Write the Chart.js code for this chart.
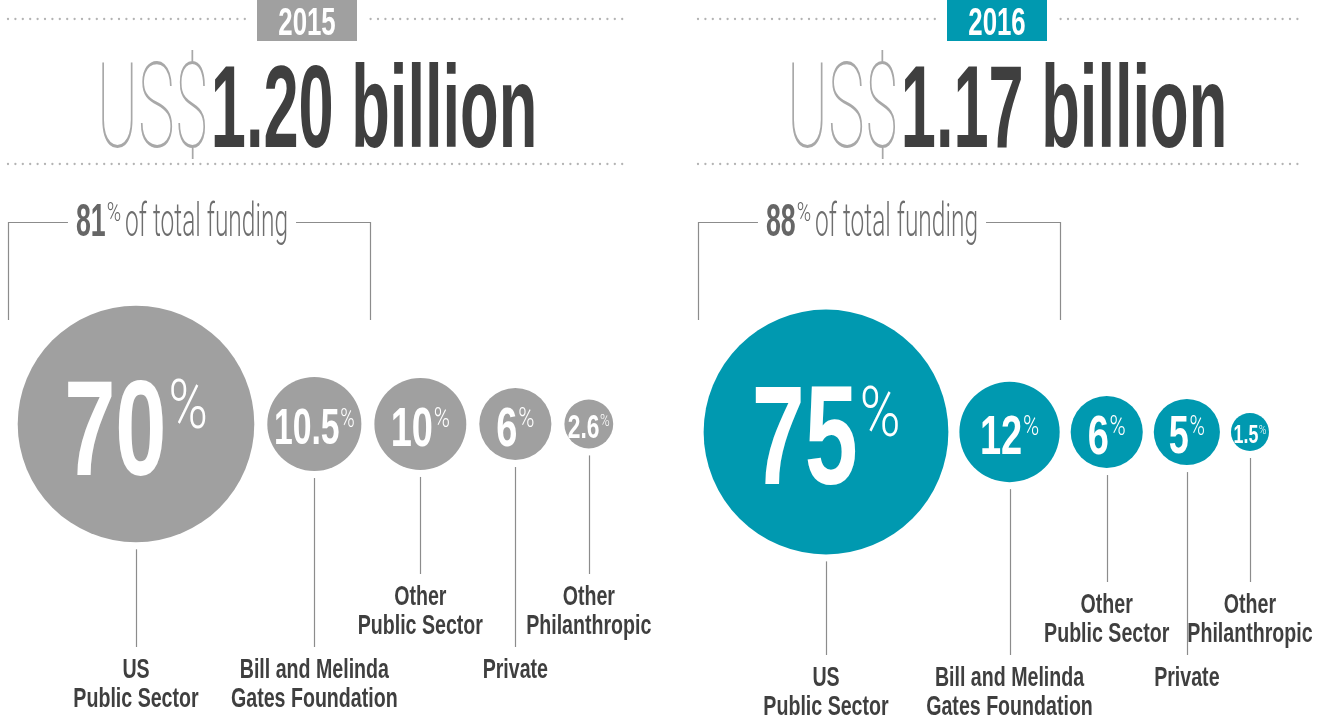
<!DOCTYPE html>
<html>
<head>
<meta charset="utf-8">
<script src="https://cdn.jsdelivr.net/npm/chart.js@4.4.1/dist/chart.umd.min.js"></script>
<style>
  html, body { margin: 0; padding: 0; background: #fff; }
  canvas { display: block; }
</style>
</head>
<body>
<canvas id="funding-chart" width="1318" height="719"></canvas>
<script>
// funding source shares, per year
const years = ['2015', '2016']
const totals = ['1.20', '1.17']
const coreShare = [81, 88]
const categories = [
  ['US', 'Public Sector'],
  ['Bill and Melinda', 'Gates Foundation'],
  ['Other', 'Public Sector'],
  ['Private'],
  ['Other', 'Philanthropic']
]
const share2015 = [70, 10.5, 10, 6, 2.6]
const share2016 = [75, 12, 6, 5, 1.5]

const W = 1318
const H = 719
const GRAY = '#a0a0a0'
const TEAL = '#0099b0'
const DARK = '#3f3f3f'
const panelX = [0, 690]
const panelDy = [0, 8]
const panelGap = [13, 11]
const BOLD = "'Liberation Sans', Arial, sans-serif"
const LIGHT = "Roboto, 'Open Sans', sans-serif"

// bubble area ~ share
function radiusOf (v) {
  return 2 + 13.9 * Math.sqrt(v)
}

// pack bubbles left to right
function packBubbles (values, panel) {
  const pts = []
  let x = panelX[panel] + 136
  let prevR = null
  values.forEach((v, i) => {
    const r = radiusOf(v)
    if (prevR !== null) x += prevR + panelGap[panel] + r
    pts.push({ x: x, y: 424 + panelDy[panel], r: r, v: v })
    prevR = r
  })
  return pts
}

function drawText (ctx, s, x, y, font, color, sx, align) {
  ctx.save()
  ctx.font = font
  ctx.fillStyle = color
  ctx.textAlign = 'left'
  ctx.textBaseline = 'alphabetic'
  const w = ctx.measureText(s).width * sx
  let left = x
  if (align === 'center') left = x - w / 2
  else if (align === 'right') left = x - w
  ctx.translate(left, y)
  ctx.scale(sx, 1)
  ctx.fillText(s, 0, 0)
  ctx.restore()
  return w
}

function textWidth (ctx, s, font, sx) {
  ctx.save()
  ctx.font = font
  const w = ctx.measureText(s).width * sx
  ctx.restore()
  return w
}

function dottedLine (ctx, x0, x1, y, skip) {
  ctx.save()
  ctx.fillStyle = '#b3b3b3'
  for (let x = x0; x <= x1; x += 7.4) {
    if (skip && x > skip[0] - 10 && x < skip[1] + 10) continue
    ctx.beginPath()
    ctx.arc(x, y, 1.15, 0, Math.PI * 2)
    ctx.fill()
  }
  ctx.restore()
}

function drawHeader (ctx, p) {
  const px = panelX[p]
  const boxL = px + 257
  const boxR = boxL + 100
  const color = p === 0 ? GRAY : TEAL
  const end = Math.min(px + 628, W - 20)

  dottedLine(ctx, px + 8, end, 19, [boxL, boxR])
  dottedLine(ctx, px + 8, end, 164, null)

  ctx.fillStyle = color
  ctx.fillRect(boxL, 0, boxR - boxL, 41)
  drawText(ctx, years[p], (boxL + boxR) / 2, 35, 'bold 38px ' + BOLD, '#fff', 0.68, 'center')

  // US$ + amount
  const thinFont = '100 118px ' + LIGHT
  const boldFont = 'bold 117px ' + BOLD
  const thinSx = 112 / textWidth(ctx, 'US$', thinFont, 1)
  const amount = totals[p] + ' billion'
  const wThin = textWidth(ctx, 'US$', thinFont, thinSx)
  const wBold = textWidth(ctx, amount, boldFont, 0.54)
  const x = px + 317 - (wThin + 2 + wBold) / 2
  drawText(ctx, 'US$', x, 147, thinFont, '#a8a8a8', thinSx, 'left')
  drawText(ctx, amount, x + wThin + 2, 147, boldFont, DARK, 0.54, 'left')

  // bracket around the public + gates share
  const numFont = 'bold 46px ' + BOLD
  const pctFont = '300 26px ' + LIGHT
  const restFont = '300 47px ' + LIGHT
  const rest = 'of total funding'
  const restSx = 163 / textWidth(ctx, rest, restFont, 1)
  const wNum = textWidth(ctx, String(coreShare[p]), numFont, 0.58)
  const wPct = textWidth(ctx, '%', pctFont, 0.75)
  const wRest = textWidth(ctx, rest, restFont, restSx)
  const total = wNum + 1 + wPct + 4 + wRest
  const tx = px + 182 - total / 2
  drawText(ctx, String(coreShare[p]), tx, 236, numFont, '#666', 0.58, 'left')
  drawText(ctx, '%', tx + wNum + 1, 221, pctFont, '#666', 0.75, 'left')
  drawText(ctx, rest, tx + wNum + 1 + wPct + 4, 236, restFont, '#6e6e6e', restSx, 'left')

  ctx.save()
  ctx.strokeStyle = '#8c8c8c'
  ctx.lineWidth = 1.2
  ctx.beginPath()
  ctx.moveTo(px + 8.5, 320)
  ctx.lineTo(px + 8.5, 222.5)
  ctx.lineTo(tx - 8, 222.5)
  ctx.moveTo(tx + total + 8, 222.5)
  ctx.lineTo(px + 370.5, 222.5)
  ctx.lineTo(px + 370.5, 320)
  ctx.stroke()
  ctx.restore()
}

function drawBubbleText (ctx, el, v) {
  const r = el.options.radius
  let cap = r > 80 ? 0.82 * r : Math.min(40, 1.15 * r)
  const num = String(v)
  const sx = 0.68
  let numFont, pctFont, wNum, wPct, gap
  const measure = () => {
    numFont = 'bold ' + (cap / 0.716).toFixed(1) + 'px ' + BOLD
    pctFont = '300 ' + (cap * 0.5 / 0.711).toFixed(1) + 'px ' + LIGHT
    wNum = textWidth(ctx, num, numFont, sx)
    wPct = textWidth(ctx, '%', pctFont, 0.78)
    gap = cap * 0.02
  }
  measure()
  const maxW = 1.72 * r
  if (wNum + gap + wPct > maxW) {
    cap *= maxW / (wNum + gap + wPct)
    measure()
  }
  const left = el.x - (wNum + gap + wPct) / 2
  const base = el.y + cap / 2 + 2
  drawText(ctx, num, left, base, numFont, '#fff', sx, 'left')
  drawText(ctx, '%', left + wNum + gap, base - cap + cap * 0.52, pctFont, '#fff', 0.78, 'left')
}

function drawLabel (ctx, el, i, p) {
  const r = el.options.radius
  const lines = categories[i]
  const high = i === 2 || i === 4
  const base = (high ? 605 : 678) + panelDy[p]
  const top = base - 20

  ctx.save()
  ctx.strokeStyle = '#8c8c8c'
  ctx.lineWidth = 1.2
  ctx.beginPath()
  const lx = Math.round(el.x) + 0.5
  ctx.moveTo(lx, el.y + r + 7)
  ctx.lineTo(lx, top - 11)
  ctx.stroke()
  ctx.restore()

  lines.forEach((s, k) => {
    drawText(ctx, s, el.x, base + k * 28.5, 'bold 28px ' + BOLD, DARK, 0.7, 'center')
  })
}

const infographic = {
  id: 'infographic',
  afterDatasetsDraw (chart) {
    const ctx = chart.ctx
    years.forEach((y, p) => {
      drawHeader(ctx, p)
      const meta = chart.getDatasetMeta(p)
      const values = p === 0 ? share2015 : share2016
      meta.data.forEach((el, i) => {
        drawBubbleText(ctx, el, values[i])
        drawLabel(ctx, el, i, p)
      })
    })
  }
}

const canvas = document.getElementById('funding-chart')
new Chart(canvas, {
  type: 'bubble',
  data: {
    datasets: [
      {
        label: years[0],
        data: packBubbles(share2015, 0),
        backgroundColor: GRAY,
        borderWidth: 0,
        hoverRadius: 0,
        clip: false
      },
      {
        label: years[1],
        data: packBubbles(share2016, 1),
        backgroundColor: TEAL,
        borderWidth: 0,
        hoverRadius: 0,
        clip: false
      }
    ]
  },
  options: {
    responsive: false,
    animation: false,
    events: [],
    layout: { padding: 0, autoPadding: false },
    scales: {
      x: { type: 'linear', min: 0, max: W, display: false },
      y: { type: 'linear', min: 0, max: H, reverse: true, display: false }
    },
    plugins: {
      legend: { display: false },
      tooltip: { enabled: false }
    }
  },
  plugins: [infographic]
})
</script>
</body>
</html>
